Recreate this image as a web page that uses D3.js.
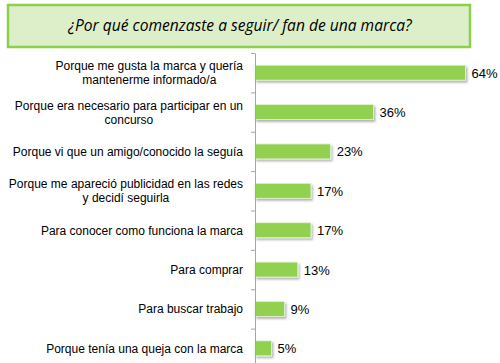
<!DOCTYPE html>
<html lang="es">
<head>
<meta charset="utf-8">
<script src="https://cdn.jsdelivr.net/npm/d3@7"></script>
<style>
    body { margin: 0; background: #fff; }
    .axis path, .axis line { fill: none; stroke: #a6a6a6; }
    .axis text { display: none; }
    .cat { font-family: "Liberation Sans", Arial, sans-serif; font-size: 12px; fill: #000; }
    .val { font-family: "Liberation Sans", Arial, sans-serif; font-size: 13px; fill: #000; }
</style>
</head>
<body>
<script>
const title = "¿Por qué comenzaste a seguir/ fan de una marca?";
const categories = [
    ["Porque me gusta la marca y quería", "mantenerme informado/a"],
    ["Porque era necesario para participar en un", "concurso"],
    ["Porque vi que un amigo/conocido la seguía"],
    ["Porque me apareció publicidad en las redes", "y decidí seguirla"],
    ["Para conocer como funciona la marca"],
    ["Para comprar"],
    ["Para buscar trabajo"],
    ["Porque tenía una queja con la marca"]
];
const values = [0.64, 0.36, 0.23, 0.17, 0.17, 0.13, 0.09, 0.05];

const w = 500, h = 363;
const svg = d3.select("body").append("svg").attr("width", w).attr("height", h);

let defs = svg.append("defs");
let f = defs.append("filter").attr("id", "shadow")
    .attr("x", "-10%").attr("y", "-30%").attr("width", "130%").attr("height", "190%");
f.append("feDropShadow").attr("dx", 1.5).attr("dy", 2).attr("stdDeviation", 1.3)
    .attr("flood-color", "#000").attr("flood-opacity", 0.3);

// title box
svg.append("rect")
    .attr("x", 8).attr("y", 5).attr("width", 462).attr("height", 42)
    .attr("fill", "#dcefc8").attr("stroke", "#8dd04e").attr("stroke-width", 2.5);
svg.append("text")
    .attr("x", 240).attr("y", 31)
    .attr("text-anchor", "middle")
    .attr("font-family", "'Open Sans', sans-serif")
    .attr("font-style", "italic")
    .attr("font-size", "15.6px")
    .attr("fill", "#000")
    .text(title);

let x0 = 255;
let xScale = d3.scaleLinear().domain([0, 1]).range([x0, x0 + 329]);
let yScale = d3.scaleBand()
    .domain(d3.range(categories.length))
    .range([53, 368])
    .paddingInner(0.62).paddingOuter(0.31);

let data = values.map((v, i) => ({ v: v, lines: categories[i], i: i }));

svg.selectAll("rect.bar")
    .data(data)
    .enter()
    .append("rect")
    .attr("class", "bar")
    .attr("x", xScale(0))
    .attr("y", (d) => yScale(d.i))
    .attr("width", (d) => xScale(d.v) - xScale(0))
    .attr("height", yScale.bandwidth())
    .attr("fill", "#92d050")
    .attr("stroke", "#e6f3da")
    .attr("stroke-width", 0.8)
    .attr("filter", "url(#shadow)");

svg.selectAll("text.val")
    .data(data)
    .enter()
    .append("text")
    .attr("class", "val")
    .attr("x", (d) => xScale(d.v) + 6)
    .attr("y", (d) => yScale(d.i) + yScale.bandwidth() / 2 + 5)
    .text((d) => Math.round(d.v * 100) + "%");

let labels = svg.selectAll("text.cat")
    .data(data)
    .enter()
    .append("text")
    .attr("class", "cat")
    .attr("text-anchor", "middle")
    .attr("y", (d) => yScale(d.i) + yScale.bandwidth() / 2 + 4.5 - (d.lines.length - 1) * 7);

labels.each(function(d) {
    let t = d3.select(this);
    d.lines.forEach((l, k) => {
        t.append("tspan").attr("x", 0).attr("dy", k === 0 ? 0 : 14).text(l);
    });
});
// right align the block, centre lines inside it
labels.each(function(d) {
    let t = d3.select(this);
    let wmax = 0;
    t.selectAll("tspan").each(function() { wmax = Math.max(wmax, this.getComputedTextLength()); });
    t.selectAll("tspan").attr("x", 243 - wmax / 2);
});

// axis with ticks at category boundaries
let bounds = d3.range(categories.length + 1).map((i) => 53 + i * 315 / categories.length);
let axisScale = d3.scaleLinear().domain([53, 368]).range([53, 368]);
svg.append("g")
    .attr("class", "axis")
    .attr("transform", "translate(" + x0 + ",0)")
    .call(d3.axisLeft(axisScale).tickValues(bounds).tickSize(4).tickSizeOuter(0));
</script>
</body>
</html>
